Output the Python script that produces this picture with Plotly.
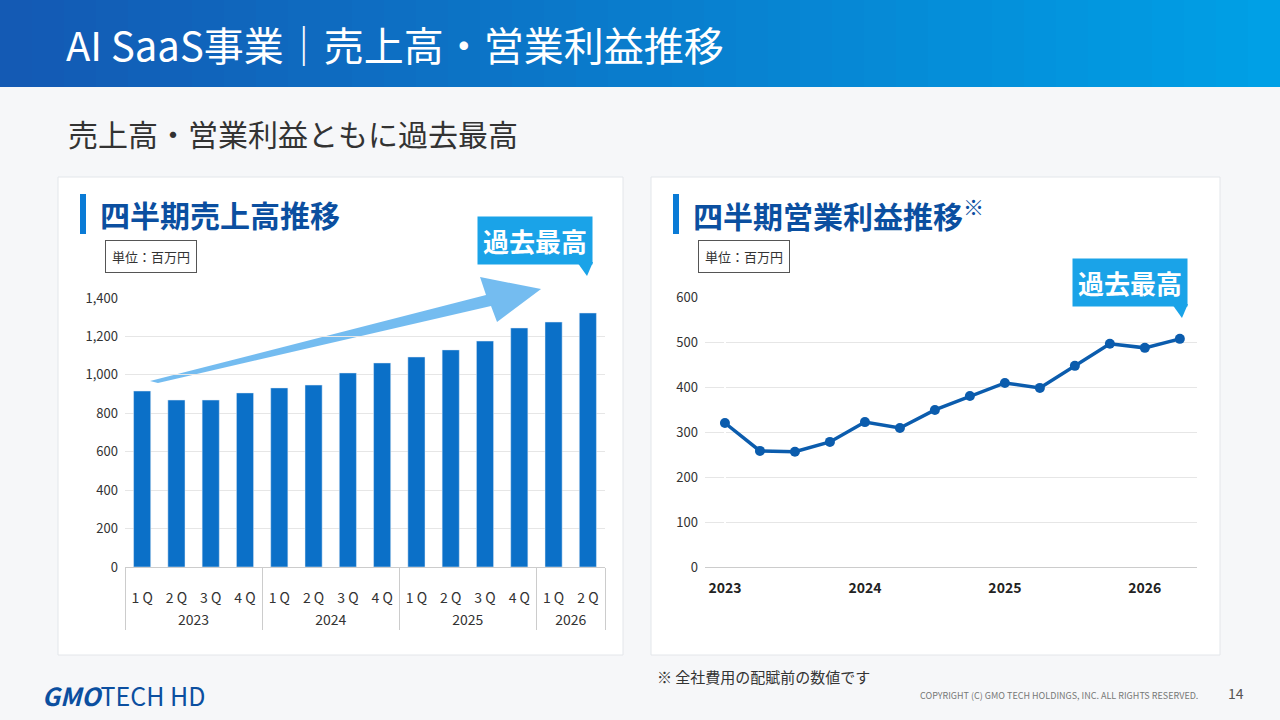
import plotly.graph_objects as go

years = ["2023"] * 4 + ["2024"] * 4 + ["2025"] * 4 + ["2026"] * 2
quarters = ["1Q", "2Q", "3Q", "4Q"] * 3 + ["1Q", "2Q"]
sales = [916, 869, 869, 906, 932, 947, 1010, 1062, 1093, 1130, 1176, 1244, 1275, 1322]
profit = [320, 258, 256, 278, 322, 309, 349, 380, 409, 398, 447, 496, 487, 507]
year_ticks = ["2023", "2024", "2025", "2026"]

W, H = 1280, 720
FONT = "Noto Sans CJK JP"

def px(x, y):
    return x / W, 1 - y / H

fig = go.Figure()

q_spaced = ["<br>" + " ".join(q) for q in quarters]
y_spaced = ["<br>" + y for y in years]
fig.add_trace(go.Bar(
    x=[y_spaced, q_spaced], y=sales, xaxis="x", yaxis="y",
    marker=dict(color="#0b70c8"), width=0.5, showlegend=False))

fig.add_trace(go.Scatter(
    x=list(range(len(profit))), y=profit, xaxis="x2", yaxis="y2",
    mode="lines+markers", line=dict(color="#0b5cad", width=3.5),
    marker=dict(size=10, color="#0b5cad"), showlegend=False))

shapes = []
# header gradient
n = 40
for i in range(n):
    t = i / (n - 1)
    r = int(0x14 + (0x00 - 0x14) * t)
    g = int(0x5a + (0xa0 - 0x5a) * t)
    b = int(0xb4 + (0xe6 - 0xb4) * t)
    shapes.append(dict(type="rect", xref="paper", yref="paper", layer="below",
                       x0=i / n, x1=(i + 1) / n + 0.002, y0=1 - 87 / H, y1=1,
                       fillcolor=f"rgb({r},{g},{b})", line=dict(width=0)))
# cards
for x0, x1 in [(58, 623), (651, 1220)]:
    a0, b0 = px(x0, 655)
    a1, b1 = px(x1, 177)
    shapes.append(dict(type="rect", xref="paper", yref="paper", layer="below",
                       x0=a0, x1=a1, y0=b0, y1=b1, fillcolor="white",
                       line=dict(color="#e3e6ea", width=1)))
# title accent bars
for x in [80, 673]:
    a0, b0 = px(x, 234)
    a1, b1 = px(x + 6, 194)
    shapes.append(dict(type="rect", xref="paper", yref="paper",
                       x0=a0, x1=a1, y0=b0, y1=b1, fillcolor="#0a7bd6", line=dict(width=0)))
# arrow
pts = [(150, 381), (486, 295), (480, 277), (541, 289), (497, 322), (491, 306), (158, 383)]
path = "M " + " L ".join(f"{px(x, y)[0]:.4f},{px(x, y)[1]:.4f}" for x, y in pts) + " Z"
shapes.append(dict(type="path", xref="paper", yref="paper", path=path, layer="below",
                   fillcolor="rgba(70,165,235,0.75)", line=dict(width=0)))
# callout pointers
for tx, ty in [(585, 264), (1180, 306)]:
    tri = [(tx - 8, ty - 2), (tx + 8, ty - 2), (tx + 2, ty + 12)]
    p = "M " + " L ".join(f"{px(x, y)[0]:.4f},{px(x, y)[1]:.4f}" for x, y in tri) + " Z"
    shapes.append(dict(type="path", xref="paper", yref="paper", path=p,
                       fillcolor="#1aa3e8", line=dict(width=0)))

ann = []
def text(x, y, s, size, color="#333", bold=False, xanchor="center", **kw):
    a, b = px(x, y)
    ann.append(dict(x=a, y=b, xref="paper", yref="paper", text=f"<b>{s}</b>" if bold else s,
                    showarrow=False, xanchor=xanchor, yanchor="middle",
                    font=dict(size=size, color=color, family=FONT), **kw))

text(64, 44, "AI SaaS事業｜売上高・営業利益推移", 40, "white", xanchor="left")
text(66, 133, "売上高・営業利益ともに過去最高", 30, "#333", xanchor="left")
text(98, 214, "四半期売上高推移", 30, "#0b4fa0", True, xanchor="left")
text(691, 214, "四半期営業利益推移<sup>※</sup>", 30, "#0b4fa0", True, xanchor="left")
for x in [105, 698]:
    text(x, 256, "単位：百万円", 13, "#333", xanchor="left", bordercolor="#555",
         borderwidth=1, borderpad=6, bgcolor="white")
for cx, cy in [(535, 241), (1130, 283)]:
    text(cx, cy, "過去最高", 26, "white", True, bgcolor="#1aa3e8", borderpad=5)
text(655, 676, "※ 全社費用の配賦前の数値です", 15, "#333", xanchor="left")
text(40, 695, "<b><i>GMO</i></b>TECH HD", 25, "#0b4fa0", xanchor="left")
text(1200, 695, "COPYRIGHT (C) GMO TECH HOLDINGS, INC. ALL RIGHTS RESERVED.", 9, "#777", xanchor="right")
text(1246, 693, "14", 14, "#555", xanchor="right")

fig.update_layout(
    width=W, height=H, margin=dict(l=0, r=0, t=0, b=0, autoexpand=False),
    paper_bgcolor="#f6f7f9", plot_bgcolor="white",
    font=dict(family=FONT, color="#333"),
    shapes=shapes, annotations=ann,
    xaxis=dict(domain=[125 / W, 605 / W], anchor="y", tickfont=dict(size=14, color="#333"),
               showdividers=True, dividercolor="#ccc",
               showline=True, linecolor="#ccc"),
    yaxis=dict(domain=[1 - 567 / H, 1 - 298 / H], range=[0, 1400], dtick=200, tickformat=",",
               gridcolor="#e6e6e6", tickfont=dict(size=13), anchor="x", zeroline=False,
               ticklabelstandoff=6),
    xaxis2=dict(domain=[705 / W, 1197 / W], anchor="y2", range=[-0.57, 13.49],
                tickvals=[0, 4, 8, 12], ticktext=[f"<b>{t}</b>" for t in year_ticks], showgrid=False,
                tickfont=dict(size=14, color="#222", family=FONT), ticklabelstandoff=8,
                showline=True, linecolor="#ccc"),
    yaxis2=dict(domain=[1 - 567 / H, 1 - 297 / H], range=[0, 600], dtick=100,
                gridcolor="#e6e6e6", tickfont=dict(size=13), anchor="x2", zeroline=False,
                ticklabelstandoff=6),
)
fig.write_html("out.html", config={"displayModeBar": False},
               post_script="document.body.style.margin='0';document.body.style.overflow='hidden';")
